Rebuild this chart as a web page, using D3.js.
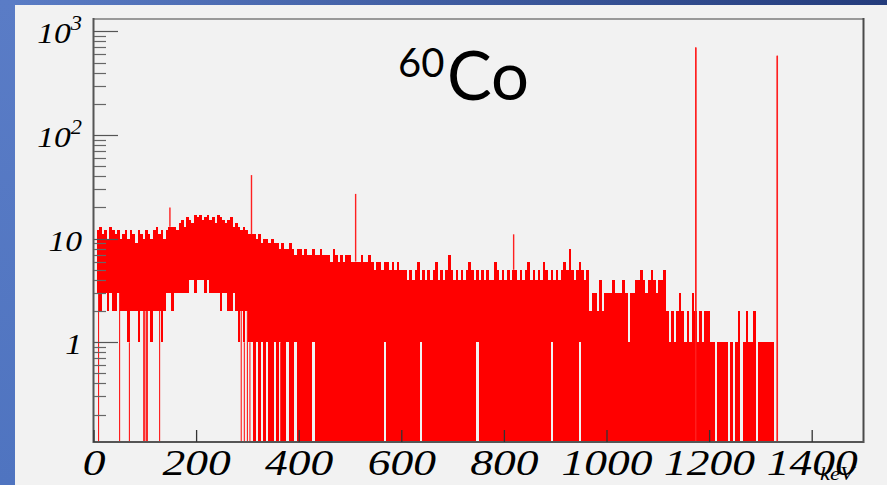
<!DOCTYPE html>
<html><head><meta charset="utf-8">
<script src="https://cdn.jsdelivr.net/npm/d3@7"></script>
<style>body{margin:0;overflow:hidden;background:#f2f2f2} svg{display:block}</style>
</head><body><svg id="c" width="887" height="485"></svg>
<script>
// ---- data ----
const binStart = 5;      // keV, first column
const binWidth = 5;      // keV per column
// upper envelope of counts per 5 keV column
const hiCounts = [
 12,13,11,12,10,13,12,11,12,10,
 11,12,10,12,11,9,12,11,10,12,
 11,10,12,13,11,12,10,12,13,13,
 13,12,14,15,13,16,15,14,17,16,
 17,15,16,17,15,16,14,17,16,15,
 14,15,16,13,14,13,12,13,12,11,
 11,11,10,11,9,10,10,9,10,9,
 9,8,9,8,8,9,8,7,8,8,
 7,8,7,7,8,7,7,8,7,7,
 7,6,8,7,6,7,6,7,7,6,
 6,6,6,7,6,6,7,6,5,6,
 6,5,6,6,5,6,5,6,5,5,
 5,4,5,4,5,6,4,5,4,5,
 4,5,6,4,5,4,5,7,5,4,
 5,4,5,4,5,6,5,4,5,4,
 5,4,5,4,4,6,5,4,5,4,
 5,4,5,5,4,5,4,5,6,4,
 5,4,5,4,6,5,4,5,4,5,
 4,5,6,5,8,5,4,5,6,5,
 4,5,2,3,3,2,4,2,3,3,
 3,4,3,3,3,4,3,1,3,3,
 4,4,5,4,3,4,5,4,3,4,
 4,5,2,1,2,1,2,3,2,1,
 2,1,3,2,1,2,1,2,2,1,
 1,1,1,1,1,1,1,1,1,1,
 2,1,1,2,1,1,2,1,1,1,
 1,1,1,1
];
// lower envelope of counts per column (0 = empty bins, line reaches the floor)
const loCounts = [
 3,2,3,3,2,3,2,2,3,2,
 2,2,1,2,2,2,1,2,2,2,
 2,1,2,2,2,1,2,3,3,2,
 3,3,3,3,3,3,4,4,3,4,
 4,4,3,4,3,3,3,3,2,3,
 3,2,2,3,2,1,2,1,2,1,
 1,0,1,0,1,0,1,0,0,1,
 0,1,0,0,1,0,0,1,0,0,
 0,0,0,0,1,0,0,0,0,0,
 0,0,0,0,0,0,0,0,0,0,
 0,0,0,0,0,0,0,0,0,0,
 0,0,1,0,0,0,0,0,0,0,
 0,0,0,0,0,0,1,0,0,0,
 0,0,0,0,0,0,0,0,0,0,
 0,0,0,0,0,0,0,0,1,0,
 0,0,0,0,0,0,0,0,0,0,
 0,0,0,0,0,0,0,0,0,0,
 0,0,0,0,0,0,0,1,0,0,
 0,0,0,0,0,0,0,0,1,0,
 0,0,0,0,0,0,0,0,0,0,
 0,0,0,0,0,0,0,0,0,0,
 0,0,0,0,0,0,0,0,0,0,
 0,0,0,0,0,0,0,0,0,0,
 0,0,0,0,0,0,0,0,0,0,
 0,1,0,0,0,0,1,0,1,0,
 0,1,0,0,0,0,0,1,0,0,
 0,0,0,0
];
// single empty bins (keV) in the low-energy part
const zeroBins = [8,49,68,96,98,101,103,127,286,292,298,303,312,323,333,343,363,388];
// single-bin spikes / photopeaks
const spikeE = [148,307,510,818,1173,1332];
const spikeCounts = [20,41,27,11,700,580];
const xTicks = [0,200,400,600,800,1000,1200,1400];
const yMajor = [1,10,100,1000];
const yLabelBase = ["1","10","10","10"];
const yLabelExp = ["","","2","3"];

// ---- drawing ----
const svg = d3.select("#c");
const W = 887, H = 485;
const defs = svg.append("defs");
const gTop = defs.append("linearGradient").attr("id","gt").attr("x1","0").attr("x2","1").attr("y1","0").attr("y2","0");
gTop.append("stop").attr("offset","0").attr("stop-color","#5b7dc6");
gTop.append("stop").attr("offset","1").attr("stop-color","#243c7c");
const gLeft = defs.append("linearGradient").attr("id","gl").attr("x1","0").attr("x2","0").attr("y1","0").attr("y2","1");
gLeft.append("stop").attr("offset","0").attr("stop-color","#5a7cc6");
gLeft.append("stop").attr("offset","1").attr("stop-color","#4f74c0");

svg.append("rect").attr("width",W).attr("height",H).attr("fill","#f2f2f2");
svg.append("rect").attr("x",0).attr("y",0).attr("width",W).attr("height",5).attr("fill","url(#gt)");
svg.append("rect").attr("x",0).attr("y",0).attr("width",15).attr("height",H).attr("fill","url(#gl)");

const x = d3.scaleLinear().domain([0,1500]).range([94,863.5]);
const yMin = 0.109, yMax = 1315;
const y = d3.scaleLog().domain([yMin,yMax]).range([442,19]);
const yv = v => v <= 0 ? y(yMin) : y(v);

const bins = hiCounts.map((h,i)=>({e:binStart+i*binWidth, hi:h, lo:loCounts[i]}));
const hist = svg.append("g");
hist.selectAll("rect.col").data(bins).enter().append("rect")
  .attr("class","col")
  .attr("shape-rendering","crispEdges")
  .attr("x",d=>x(d.e))
  .attr("width",d=>x(d.e+binWidth)-x(d.e))
  .attr("y",d=>yv(d.hi))
  .attr("height",d=>Math.max(0,yv(d.lo)-yv(d.hi)))
  .attr("fill","#ff0000");

hist.selectAll("line.zero").data(zeroBins).enter().append("line")
  .attr("x1",d=>x(d)+0.5).attr("x2",d=>x(d)+0.5)
  .attr("y1",d=>{const b=bins[Math.min(bins.length-1,Math.max(0,Math.floor((d-binStart)/binWidth)))];return yv(b.lo);})
  .attr("y2",y(yMin))
  .attr("stroke","#ff0000").attr("stroke-width",1);

const spikes = spikeE.map((e,i)=>({e, v:spikeCounts[i]}));
hist.selectAll("line.spike").data(spikes).enter().append("line")
  .attr("x1",d=>x(d.e)).attr("x2",d=>x(d.e))
  .attr("y1",d=>y(d.v))
  .attr("y2",d=>{const idx=Math.floor((d.e-binStart)/binWidth);const b=bins[idx];return b?yv(b.hi):y(yMin);})
  .attr("stroke","#ff2020").attr("stroke-width",1.4);
// photopeak lines go to the floor
hist.selectAll("line.peak").data(spikes.filter(d=>d.v>100)).enter().append("line")
  .attr("x1",d=>x(d.e)).attr("x2",d=>x(d.e))
  .attr("y1",d=>y(d.v)).attr("y2",y(yMin))
  .attr("stroke","#ff2020").attr("stroke-width",1.4);

// frame
const fr = svg.append("g");
fr.append("line").attr("x1",93).attr("x2",864).attr("y1",19).attr("y2",19).attr("stroke","#999").attr("stroke-width",2);
fr.append("line").attr("x1",863.5).attr("x2",863.5).attr("y1",18).attr("y2",443).attr("stroke","#4a4a4a").attr("stroke-width",2);
fr.append("line").attr("x1",93).attr("x2",864).attr("y1",442).attr("y2",442).attr("stroke","#555").attr("stroke-width",2);
fr.append("line").attr("x1",93.5).attr("x2",93.5).attr("y1",18).attr("y2",443).attr("stroke","#555").attr("stroke-width",2);

// y ticks
const minor = [];
[0.1,1,10,100].forEach(d=>{for(let k=2;k<=9;k++){const v=d*k; if(v>yMin&&v<yMax) minor.push(v);}});
fr.selectAll("line.ymin").data(minor).enter().append("line")
  .attr("x1",94).attr("x2",106).attr("y1",d=>Math.round(y(d))+0.5).attr("y2",d=>Math.round(y(d))+0.5)
  .attr("stroke","#666").attr("stroke-width",1.2);
fr.selectAll("line.ymaj").data(yMajor).enter().append("line")
  .attr("x1",94).attr("x2",118).attr("y1",d=>Math.round(y(d))+0.5).attr("y2",d=>Math.round(y(d))+0.5)
  .attr("stroke","#555").attr("stroke-width",1.2);

// x ticks
fr.selectAll("line.xt").data(xTicks).enter().append("line")
  .attr("x1",d=>x(d)).attr("x2",d=>x(d)).attr("y1",430).attr("y2",442)
  .attr("stroke","#333").attr("stroke-width",1.3);

// y labels
const yl = svg.append("g").attr("font-family","'Liberation Serif','DejaVu Serif',serif").attr("font-style","italic").attr("fill","#000");
yMajor.forEach((v,i)=>{
  const t = yl.append("text").attr("text-anchor","end").attr("font-size",30)
    .attr("transform",`translate(82,${y(v)+12}) scale(1.12,1)`);
  t.append("tspan").text(yLabelBase[i]);
  if(yLabelExp[i]) t.append("tspan").attr("font-size",20).attr("dy",-13).text(yLabelExp[i]);
});

// x labels
const xl = svg.append("g").attr("font-family","'Liberation Serif','DejaVu Serif',serif").attr("font-style","italic").attr("fill","#000");
xTicks.forEach(v=>{
  xl.append("text").attr("text-anchor","middle").attr("font-size",35)
    .attr("transform",`translate(${x(v)},475) scale(1.3,1)`).text(v);
});
xl.append("text").attr("font-size",18).attr("transform","translate(820,480) scale(1.25,1)").text("keV");

// title
const tt = svg.append("text").attr("font-family","Lato,'Open Sans',sans-serif").attr("fill","#000");
tt.append("tspan").attr("x",398).attr("y",77).attr("font-size",40).text("60");
tt.append("tspan").attr("x",447).attr("y",100).attr("font-size",67).text("Co");
</script></body></html>
